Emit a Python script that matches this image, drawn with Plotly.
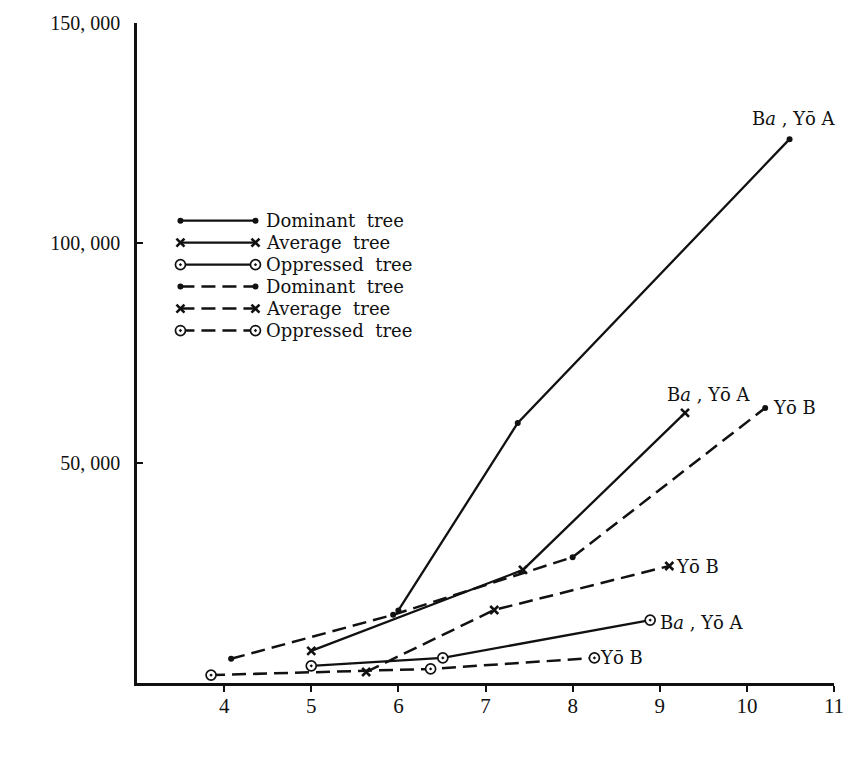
import plotly.graph_objects as go

# ---------------- data ----------------
# Stand Ba, YōA  (solid lines)
dom_A_height = [6.0, 7.37, 10.49]
dom_A_volume = [16500, 59100, 123600]
avg_A_height = [5.0, 7.43, 9.29]
avg_A_volume = [7300, 25700, 61400]
opp_A_height = [5.0, 6.51, 8.89]
opp_A_volume = [3900, 5700, 14300]
# Stand YōB  (dashed lines)
dom_B_height = [4.08, 5.94, 8.0, 10.21]
dom_B_volume = [5500, 15500, 28600, 62500]
avg_B_height = [5.63, 7.1, 9.11]
avg_B_volume = [2500, 16600, 26600]
opp_B_height = [3.85, 6.37, 8.25]
opp_B_volume = [1800, 3200, 5700]

x_ticks = [4, 5, 6, 7, 8, 9, 10, 11]
y_ticks = [50000, 100000, 150000]
y_tick_text = ["50, 000", "100, 000", "150, 000"]
legend_names = ["Dominant  tree", "Average  tree", "Oppressed  tree",
                "Dominant  tree", "Average  tree", "Oppressed  tree"]
label_A = "B<i>a</i> , Yō A"
label_B = "Yō B"

# ---------------- styles ----------------
FONT = "DejaVu Serif"
NUM_FONT = "Liberation Serif"
BLACK = "#111111"
SOLID = dict(color=BLACK, width=2.3)
DASHED = dict(color=BLACK, width=2.5, dash="14px,7px")
M_DOM = dict(symbol="circle", size=6, color=BLACK)
M_AVG = dict(symbol="x-thin", size=8, color=BLACK, line=dict(color=BLACK, width=2.6))
M_OPP = dict(symbol="circle-dot", size=10, color="white", line=dict(color=BLACK, width=1.7))

W, H = 856, 764
L, R, T, B = 137, 13, 22, 81

fig = go.Figure()

series = [
    (dom_A_height, dom_A_volume, SOLID, M_DOM),
    (avg_A_height, avg_A_volume, SOLID, M_AVG),
    (opp_A_height, opp_A_volume, SOLID, M_OPP),
    (dom_B_height, dom_B_volume, DASHED, M_DOM),
    (avg_B_height, avg_B_volume, DASHED, M_AVG),
    (opp_B_height, opp_B_volume, DASHED, M_OPP),
]
for xs, ys, ln, mk in series:
    fig.add_trace(go.Scatter(x=xs, y=ys, mode="lines+markers", line=ln, marker=mk,
                             showlegend=False, hoverinfo="skip"))

# ---------------- hand-drawn legend (on a pixel overlay axis) ----------------
leg_x0, leg_x1, leg_text_x = 181, 257, 266
leg_rows = [220, 242, 264, 286, 308, 330]
styles = [(SOLID, M_DOM), (SOLID, M_AVG), (SOLID, M_OPP),
          (DASHED, M_DOM), (DASHED, M_AVG), (DASHED, M_OPP)]
annotations = []
for (ln, mk), yy, name in zip(styles, leg_rows, legend_names):
    fig.add_trace(go.Scatter(x=[leg_x0, leg_x1], y=[yy, yy], xaxis="x2", yaxis="y2",
                             mode="lines+markers", line=ln, marker=mk,
                             showlegend=False, hoverinfo="skip"))
    annotations.append(dict(x=leg_text_x, y=yy, xref="x2", yref="y2", text=name,
                            showarrow=False, xanchor="left", yanchor="middle",
                            font=dict(family=FONT, size=18, color=BLACK)))

# ---------------- end labels ----------------
lab_font = dict(family=FONT, size=18, color=BLACK)
annotations += [
    dict(x=dom_A_height[-1], y=dom_A_volume[-1], text=label_A, showarrow=False,
         xanchor="center", yanchor="bottom", xshift=4, yshift=8, font=lab_font),
    dict(x=avg_A_height[-1], y=avg_A_volume[-1], text=label_A, showarrow=False,
         xanchor="center", yanchor="bottom", xshift=24, yshift=6, font=lab_font),
    dict(x=dom_B_height[-1], y=dom_B_volume[-1], text=label_B, showarrow=False,
         xanchor="left", yanchor="middle", xshift=6, yshift=1, font=lab_font),
    dict(x=avg_B_height[-1], y=avg_B_volume[-1], text=label_B, showarrow=False,
         xanchor="left", yanchor="middle", xshift=5, yshift=-1, font=lab_font),
    dict(x=opp_A_height[-1], y=opp_A_volume[-1], text=label_A, showarrow=False,
         xanchor="left", yanchor="middle", xshift=8, yshift=-2, font=lab_font),
    dict(x=opp_B_height[-1], y=opp_B_volume[-1], text=label_B, showarrow=False,
         xanchor="left", yanchor="middle", xshift=4, yshift=0, font=lab_font),
]

# axis titles
annotations += [
    dict(x=423, y=745, xref="x2", yref="y2", text="Tree  height  (<i>m</i>)",
         showarrow=False, xanchor="center", yanchor="middle",
         font=dict(family=FONT, size=19, color=BLACK)),
    dict(x=23, y=358, xref="x2", yref="y2", text="Volume  (<i>cm</i>³)",
         showarrow=False, xanchor="center", yanchor="middle", textangle=-90,
         font=dict(family=FONT, size=19, color=BLACK)),
]

fig.update_layout(
    width=W, height=H,
    margin=dict(l=L, r=R, t=T, b=B),
    paper_bgcolor="white", plot_bgcolor="white",
    showlegend=False,
    font=dict(family=FONT, size=17, color=BLACK),
    xaxis=dict(range=[3, 11], tickvals=x_ticks, ticks="outside", ticklen=6,
               tickwidth=2, tickcolor=BLACK, showline=True, linewidth=2.5,
               linecolor=BLACK, showgrid=False, zeroline=False, ticklabelstandoff=-4,
               tickfont=dict(family=NUM_FONT, size=21, color=BLACK)),
    yaxis=dict(range=[0, 150000], tickvals=y_ticks, ticktext=y_tick_text,
               ticks="inside", ticklen=6, tickwidth=2, tickcolor=BLACK,
               showline=True, linewidth=2.5, linecolor=BLACK, showgrid=False,
               zeroline=False, ticklabelstandoff=10,
               tickfont=dict(family=NUM_FONT, size=20, color=BLACK)),
    xaxis2=dict(overlaying="x", range=[L, W - R], visible=False),
    yaxis2=dict(overlaying="y", range=[H - B, T], visible=False),
    annotations=annotations,
)

fig.write_html("out.html")
